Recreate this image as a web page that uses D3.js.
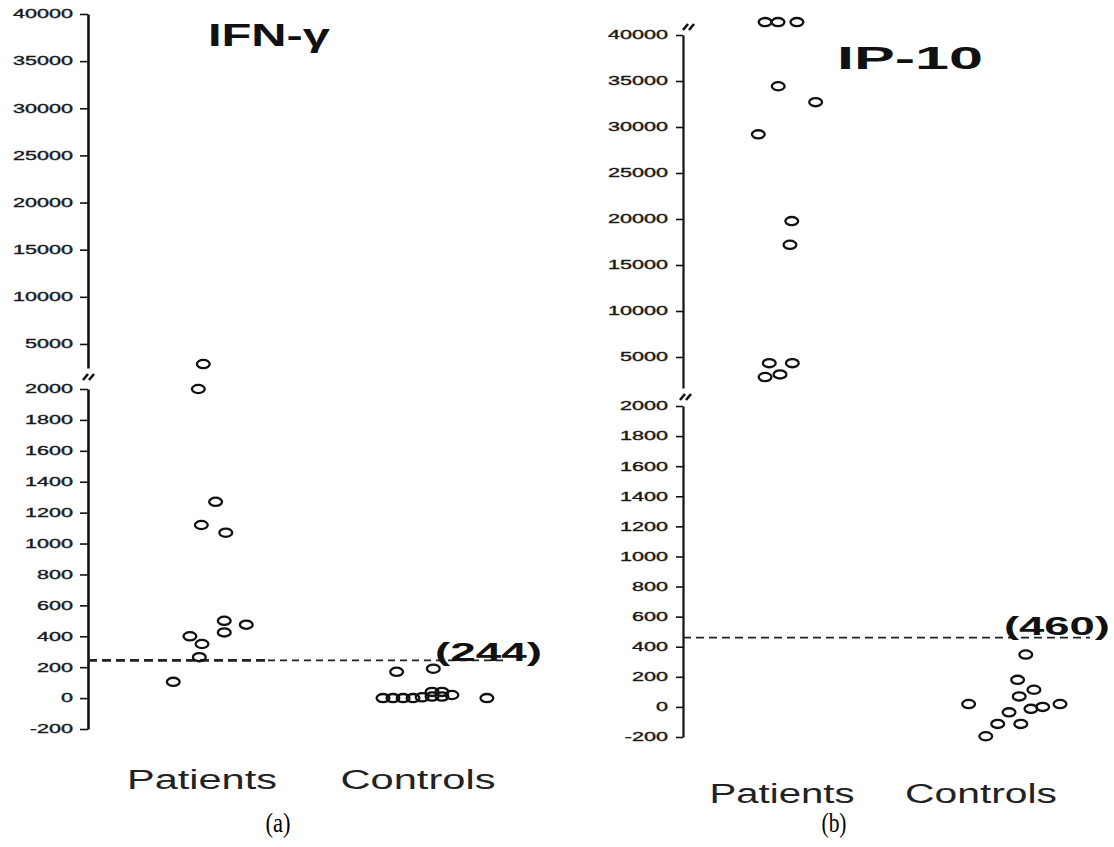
<!DOCTYPE html>
<html>
<head>
<meta charset="utf-8">
<script src="https://cdnjs.cloudflare.com/ajax/libs/d3/7.8.5/d3.min.js"></script>
<style>
	body { margin: 0; background: #fff; }
	text { font-family: "Liberation Sans", Arial, sans-serif; }
</style>
</head>
<body>
<div id="chart"></div>
<script>
const categories = ['Patients', 'Controls'];

// IFN-gamma (a)
const ifnPatients = [2870, 2000, 1270, 1120, 1070, 500, 475, 425, 400, 350, 265, 105];
const ifnPatientsJitter = [0.006, -0.017, 0.063, -0.003, 0.11, 0.103, 0.205, 0.103, -0.056, 0, -0.0125, -0.133];
const ifnControls = [170, 190, 0, 0, 0, 0, 5, 40, 40, 10, 10, 20, 0];
const ifnControlsJitter = [-0.099, 0.071, -0.162, -0.116, -0.069, -0.023, 0.019, 0.065, 0.111, 0.065, 0.111, 0.157, 0.319];
const ifnCutoff = 244;

// IP-10 (b)
const ipPatients = [41400, 41400, 41400, 34430, 32700, 29200, 19770, 17200, 4330, 4330, 2820, 3110];
const ipPatientsJitter = [-0.085, -0.02, 0.075, -0.019, 0.169, -0.119, 0.049, 0.04, -0.064, 0.052, -0.085, -0.01];
const ipControls = [348, 180, 114, 70, 19, 19, 0, -13, -36, -113, -113, -195];
const ipControlsJitter = [0.225, 0.184, 0.266, 0.192, -0.062, 0.397, 0.31, 0.251, 0.141, 0.084, 0.2, 0.024];
const ipCutoff = 460;

const upperTicks = [5000, 10000, 15000, 20000, 25000, 30000, 35000, 40000];
const lowerTicks = [-200, 0, 200, 400, 600, 800, 1000, 1200, 1400, 1600, 1800, 2000];
const breakValue = 2000;

var W = 1114, H = 847, sx = 1.8;

var svg = d3.select("#chart")
	.append("svg")
	.attr("width", W)
	.attr("height", H);

svg.append("rect").attr("width", W).attr("height", H).attr("fill", "#fff");

function panel(cfg) {
	var g = svg.append("g");

	var x = d3.scalePoint()
		.domain(categories)
		.range(cfg.xRange);
	var step = x.step();

	var yTop = d3.scaleLinear().domain(cfg.topDomain).range(cfg.topRange);
	var yBot = d3.scaleLinear().domain([-200, 2000]).range(cfg.botRange);
	var y = (v) => v > breakValue ? yTop(v) : yBot(v);

	function styleAxis(sel, width) {
		sel.select(".domain").attr("stroke", "#111").attr("stroke-width", width);
		sel.selectAll(".tick line").attr("stroke", "#111").attr("stroke-width", 1.6);
		sel.selectAll(".tick text")
			.attr("x", -cfg.labelGap / sx)
			.attr("transform", `scale(${sx},1)`)
			.attr("fill", "#1a1a1a")
			.attr("stroke", "#1a1a1a")
			.attr("stroke-width", 0.35)
			.style("font-size", "12px");
	}

	g.append("g")
		.attr("transform", `translate(${cfg.axisX},0)`)
		.call(d3.axisLeft(yTop).tickValues(upperTicks).tickSize(cfg.tick).tickSizeOuter(0).tickFormat((d) => String(d)))
		.call(styleAxis, cfg.axisWidth);

	g.append("g")
		.attr("transform", `translate(${cfg.axisX},0)`)
		.call(d3.axisLeft(yBot).tickValues(lowerTicks).tickSize(cfg.tick).tickSizeOuter(0).tickFormat((d) => String(d)))
		.call(styleAxis, cfg.axisWidth);

	// axis break marks
	cfg.breaks.forEach(function(b) {
		[0, 6].forEach(function(o) {
			g.append("line")
				.attr("x1", b[0] - 5 + o).attr("y1", b[1] + 3)
				.attr("x2", b[0] + o).attr("y2", b[1] - 3)
				.attr("stroke", "#111").attr("stroke-width", 2.6);
		});
	});

	// cutoff line
	var cy = yBot(cfg.cutoff);
	cfg.dash.forEach(function(d) {
		g.append("line")
			.attr("x1", d[0]).attr("x2", d[1])
			.attr("y1", cy).attr("y2", cy)
			.attr("stroke", "#222")
			.attr("stroke-width", d[2])
			.attr("stroke-dasharray", d[3]);
	});

	g.append("text")
		.attr("x", cfg.cutX).attr("y", cy + cfg.cutDy)
		.attr("font-weight", "bold")
		.style("font-size", "26px")
		.attr("textLength", cfg.cutW)
		.attr("lengthAdjust", "spacingAndGlyphs")
		.attr("fill", "#111")
		.text(`(${cfg.cutoff})`);

	// points
	var pts = [];
	cfg.patients.forEach((v, i) => pts.push({c: 'Patients', v: v, j: cfg.patientsJitter[i]}));
	cfg.controls.forEach((v, i) => pts.push({c: 'Controls', v: v, j: cfg.controlsJitter[i]}));

	g.append("g")
		.selectAll("ellipse")
		.data(pts)
		.enter()
		.append("ellipse")
		.attr("cx", (d) => x(d.c) + d.j * step)
		.attr("cy", (d) => y(d.v))
		.attr("rx", 6.4)
		.attr("ry", 4.1)
		.attr("fill", "none")
		.attr("stroke", "#111")
		.attr("stroke-width", 2.3);

	// title
	g.append("text")
		.attr("x", cfg.titleX).attr("y", cfg.titleY)
		.attr("font-weight", "bold")
		.style("font-size", "32px")
		.attr("textLength", cfg.titleW)
		.attr("lengthAdjust", "spacingAndGlyphs")
		.attr("fill", "#111")
		.text(cfg.title);

	// category labels
	g.selectAll(".cat")
		.data(categories)
		.enter()
		.append("text")
		.attr("class", "cat")
		.attr("x", (d) => x(d))
		.attr("y", cfg.catY)
		.attr("text-anchor", "middle")
		.style("font-size", "27px")
		.attr("textLength", (d, i) => cfg.catW[i])
		.attr("lengthAdjust", "spacingAndGlyphs")
		.attr("fill", "#222")
		.text((d) => d);

	svg.append("text")
		.attr("x", cfg.subX).attr("y", 832)
		.attr("text-anchor", "middle")
		.style("font-family", "'Liberation Serif', 'Times New Roman', serif")
		.style("font-size", "28px")
		.attr("textLength", 25)
		.attr("lengthAdjust", "spacingAndGlyphs")
		.text(cfg.sub);
}

panel({
	title: "IFN-γ", titleX: 208, titleY: 46, titleW: 122,
	xRange: [202, 418], axisX: 88, axisWidth: 2.6, tick: 8, labelGap: 15,
	topDomain: [2450, 40000], topRange: [368, 14],
	botRange: [729, 389],
	breaks: [[88, 377]],
	patients: ifnPatients, patientsJitter: ifnPatientsJitter,
	controls: ifnControls, controlsJitter: ifnControlsJitter,
	cutoff: ifnCutoff, cutX: 435, cutDy: 1, cutW: 107,
	dash: [[88, 268, 2.6, "9,5"], [268, 505, 1.6, "7,5"]],
	catY: 789, catW: [150, 155],
	sub: "(a)", subX: 278
});

panel({
	title: "IP-10", titleX: 837, titleY: 69, titleW: 146,
	xRange: [782, 981], axisX: 683, axisWidth: 2.2, tick: 7, labelGap: 15,
	topDomain: [1630, 40000], topRange: [388, 35],
	botRange: [737, 406],
	breaks: [[688, 27], [685, 397]],
	patients: ipPatients, patientsJitter: ipPatientsJitter,
	controls: ipControls, controlsJitter: ipControlsJitter,
	cutoff: ipCutoff, cutX: 1004, cutDy: -3, cutW: 106,
	dash: [[683, 1090, 1.8, "8,5"]],
	catY: 803, catW: [145, 152],
	sub: "(b)", subX: 834
});
</script>
</body>
</html>
